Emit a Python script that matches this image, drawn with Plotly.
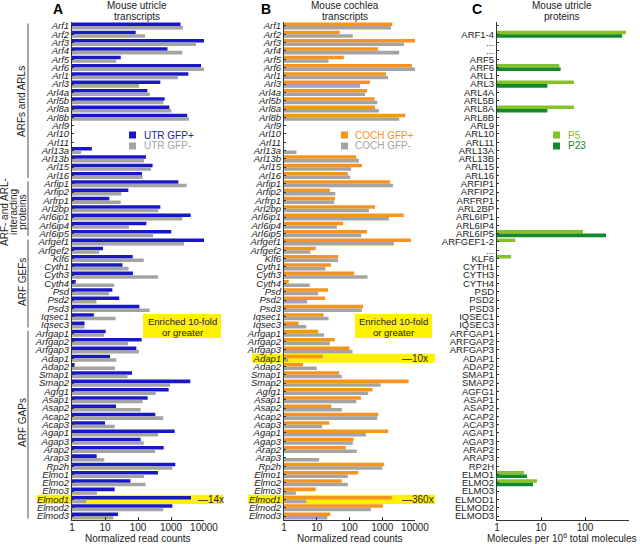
import plotly.graph_objects as go

W, H = 640, 544
FONT = "Liberation Sans, Arial, sans-serif"

genes = ["Arf1", "Arf2", "Arf3", "Arf4", "Arf5", "Arf6", "Arl1", "Arl3", "Arl4a", "Arl5b",
         "Arl8a", "Arl8b", "Arl9", "Arl10", "Arl11", "Arl13a", "Arl13b", "Arl15", "Arl16",
         "Arfip1", "Arfip2", "Arfrp1", "Arl2bp", "Arl6ip1", "Arl6ip4", "Arl6ip5",
         "Arfgef1", "Arfgef2", "Klf6", "Cyth1", "Cyth3", "Cyth4", "Psd", "Psd2", "Psd3",
         "Iqsec1", "Iqsec3", "Arfgap1", "Arfgap2", "Arfgap3", "Adap1", "Adap2", "Smap1",
         "Smap2", "Agfg1", "Asap1", "Asap2", "Acap2", "Acap3", "Agap1", "Agap3", "Arap2",
         "Arap3", "Rp2h", "Elmo1", "Elmo2", "Elmo3", "Elmod1", "Elmod2", "Elmod3"]

utr_pos = [1950, 85, 10500, 780, 30, 8100, 3350, 475, 192, 640,
           890, 3100, None, None, None, 4, 174, 277, 132,
           1670, 51, 13.5, 475, 3950, 179, 1020,
           10500, 8.7, 69, 34, 70, 1.3, 16.7, 27, 110,
           4.6, 2.4, 10.5, 129, 89, 14.2, 1.2, 66,
           3850, 850, 196, 21.6, 335, 10, 1290, 120, 600,
           5.6, 1350, 405, 59, 19.7, 4050, 1100, 24.7]
utr_neg = [2300, 163, 5700, 2200, 22, 10500, 1630, 107, 230, 585,
           1020, 3500, None, None, None, 1.9, 152, 247, 138,
           2970, 31, 30, 415, 2200, 53, 285,
           2460, 6.7, 149, 52, 405, 19, 13.2, 5.5, 225,
           21, 2.4, 9.3, 50, 107, 22, 20, 48,
           935, 345, 138, 120, 585, 19.7, 405, 149, 328,
           9.5, 1100, 152, 170, 5.7, 2.7, 585, 17.9]
coch_pos = [2030, 50, 10700, 740, 67, 8100, 1290, 420, 345, 585,
            600, 5050, None, None, None, None, 160, 240, 89,
            1750, 25, 36, 600, 4500, 64, 340,
            7550, 9.3, 45, 27, 139, 1.4, 22, 18, 262,
            16, 2.8, 11, 35, 100, 15.3, 3.8, 48,
            6400, 505, 223, 28, 755, 24, 1520, 135, 77,
            None, 1150, 185, 58, 9.3, 1950, 1050, 26]
coch_neg = [1850, 126, 4600, 3300, 23, 10700, 1490, 212, 300, 705,
            790, 3300, None, None, None, 2.4, 194, 112, 105,
            2130, 37, 34, 390, 1600, 41, 229,
            2270, 6.4, 45, 18.5, 355, 6.1, 11, 5.1, 240,
            23, 4.8, 16.7, 25, 124, 1.36, 10, 58,
            890, 372, 160, 58, 705, 14.6, 316, 126, 167,
            11.8, 1020, 89, 89, 2.3, 4.8, 450, 21]

protein_labels = ["", "ARF1-4", "...", "...", "ARF5", "ARF6", "ARL1", "ARL3", "ARL4A", "ARL5B",
                  "ARL8A", "ARL8B", "ARL9", "ARL10", "ARL11", "ARL13A", "ARL13B", "ARL15", "ARL16",
                  "ARFIP1", "ARFIP2", "ARFRP1", "ARL2BP", "ARL6IP1", "ARL6IP4", "ARL6IP5",
                  "ARFGEF1-2", "...", "KLF6", "CYTH1", "CYTH3", "CYTH4", "PSD", "PSD2", "PSD3",
                  "IQSEC1", "IQSEC3", "ARFGAP1", "ARFGAP2", "ARFGAP3", "ADAP1", "ADAP2", "SMAP1",
                  "SMAP2", "AGFG1", "ASAP1", "ASAP2", "ACAP2", "ACAP3", "AGAP1", "AGAP3", "ARAP2",
                  "ARAP3", "RP2H", "ELMO1", "ELMO2", "ELMO3", "ELMOD1", "ELMOD2", "ELMOD3"]
p5 = [None, 850, None, None, None, 26, None, 56, None, None,
      56, None, None, None, None, None, None, None, None,
      None, None, None, None, None, None, 90,
      2.6, None, 2.1, None, None, None, None, None, None,
      None, None, None, None, None, None, None, None,
      None, None, None, None, None, None, None, None, None,
      None, None, 4.1, 8.1, None, None, None, None]
p23 = [None, 700, None, None, None, 28, None, 14, None, None,
       14, None, None, None, None, None, None, None, None,
       None, None, None, None, None, None, 300,
       None, None, None, None, None, None, None, None, None,
       None, None, None, None, None, None, None, None,
       None, None, None, None, None, None, None, None, None,
       None, None, 4.8, 6.6, None, None, None, None]

read_ticks = [1, 10, 100, 1000, 10000]
mol_ticks = [1, 10, 100, 1000]

BLUE = "#1818c8"
GRAY = "#a4a4a4"
ORANGE = "#f7941d"
LGREEN = "#84c225"
DGREEN = "#12892c"
YELLOW = "#fff200"


def X(p):
    return p / W


def Y(p):
    return 1 - p / H


idx = list(range(len(genes)))
fig = go.Figure()

panels = [
    ("x", "y", utr_pos, utr_neg, BLUE, GRAY),
    ("x2", "y2", coch_pos, coch_neg, ORANGE, GRAY),
    ("x3", "y3", p5, p23, LGREEN, DGREEN),
]
for xa, ya, a, b, ca, cb in panels:
    fig.add_trace(go.Bar(x=a, y=idx, orientation="h", marker=dict(color=ca, line=dict(width=0)),
                         xaxis=xa, yaxis=ya, showlegend=False, hoverinfo="skip"))
    fig.add_trace(go.Bar(x=b, y=idx, orientation="h", marker=dict(color=cb, line=dict(width=0)),
                         xaxis=xa, yaxis=ya, showlegend=False, hoverinfo="skip"))

ydom = [Y(520.2), Y(21.8)]
xdoms = [[X(72), X(204)], [X(284), X(415)], [X(497), X(629)]]

def yax(labels, italic, anchor):
    return dict(domain=ydom, range=[len(labels) - 0.5, -0.5], tickvals=idx, ticktext=labels,
                tickfont=dict(size=9.5, family=FONT, color="#222", style="italic" if italic else "normal"),
                ticks="inside", ticklen=2, tickcolor="#333", showline=True, linecolor="#333",
                linewidth=1, showgrid=False, zeroline=False, anchor=anchor, fixedrange=True,
                automargin=False)

def xax(dom, rng, tv, anchor):
    return dict(domain=dom, type="log", range=rng, tickvals=tv, ticktext=[str(t) for t in tv],
                tickfont=dict(size=10, family=FONT, color="#222"), ticks="inside", ticklen=3,
                tickcolor="#333", showline=True, linecolor="#333", linewidth=1, showgrid=False,
                zeroline=False, anchor=anchor, automargin=False, fixedrange=True,
                ticklabelstandoff=-2)

fig.update_layout(
    width=W, height=H, margin=dict(l=0, r=0, t=0, b=0, autoexpand=False),
    paper_bgcolor="white", plot_bgcolor="rgba(0,0,0,0)",
    barmode="group", bargap=0.15, bargroupgap=0,
    font=dict(family=FONT, size=10, color="#222"),
    xaxis=xax(xdoms[0], [0, 4], read_ticks, "y"),
    xaxis2=xax(xdoms[1], [0, 4], read_ticks, "y2"),
    xaxis3=xax(xdoms[2], [0, 3], mol_ticks, "y3"),
    yaxis=yax(genes, True, "x"),
    yaxis2=yax(genes, True, "x2"),
    yaxis3=yax(protein_labels, False, "x3"),
)

shapes = []
ann = []

def text(x, y, t, size=10, color="#222", xanchor="center", angle=0, bold=False, yref="paper"):
    ann.append(dict(x=X(x), y=(Y(y) if yref == "paper" else y), xref="paper", yref=yref, text=t,
                    showarrow=False, xanchor=xanchor, yanchor="middle", textangle=angle,
                    font=dict(size=size, color=color, family=FONT, weight="bold" if bold else "normal")))

# panel letters & titles
text(58, 9, "A", size=14, bold=True, color="#000")
text(266, 9, "B", size=14, bold=True, color="#000")
text(477, 9, "C", size=14, bold=True, color="#000")
text(137, 5.5, "Mouse utricle")
text(137, 16, "transcripts")
text(345, 5.5, "Mouse cochlea")
text(345, 16, "transcripts")
text(562, 5.5, "Mouse utricle")
text(562, 16, "proteins")

# axis titles
text(138, 538, "Normalized read counts")
text(350, 538, "Normalized read counts")
text(562, 538, "Molecules per 10<sup>6</sup> total molecules")

# group brackets and labels (panel A)
groups = [("Arf1", "Arl16"), ("Arfip1", "Arl6ip5"), ("Arfgef1", "Iqsec3"), ("Arfgap1", "Elmod3")]
for g0, g1 in groups:
    shapes.append(dict(type="line", xref="paper", yref="y", x0=X(28), x1=X(28),
                       y0=genes.index(g0) - 0.3, y1=genes.index(g1) + 0.3,
                       line=dict(color="#8a8a8a", width=1.5)))
text(21, 102, "ARFs and ARLs", angle=-90)
text(5, 212, "ARF- and ARL-", angle=-90)
text(14, 212, "interacting", angle=-90)
text(23, 212, "proteins", angle=-90)
text(22, 282, "ARF GEFs", angle=-90)
text(22, 423, "ARF GAPs", angle=-90)

# legends
legends = [
    (129, 142, "UTR GFP+", BLUE, "UTR GFP-", GRAY, BLUE, GRAY),
    (341, 353, "COCH GFP+", ORANGE, "COCH GFP-", GRAY, ORANGE, GRAY),
    (553, 566, "P5", LGREEN, "P23", DGREEN, LGREEN, DGREEN),
]
for sx, tx, t1, c1, t2, c2, m1, m2 in legends:
    for (ty, t, c, m) in [(135, t1, c1, m1), (146, t2, c2, m2)]:
        shapes.append(dict(type="rect", xref="paper", yref="paper", x0=X(sx), x1=X(sx + 7),
                           y0=Y(ty + 3.5), y1=Y(ty - 3.5), fillcolor=m, line=dict(width=0)))
        text(tx, ty, t, color=c, xanchor="left")

# enriched boxes
for x0, x1 in [(143, 221), (355, 432)]:
    shapes.append(dict(type="rect", xref="paper", yref="paper", x0=X(x0), x1=X(x1),
                       y0=Y(338), y1=Y(314), fillcolor=YELLOW, line=dict(width=0), layer="below"))
    text((x0 + x1) / 2, 321, "Enriched 10-fold", size=9.5)
    text((x0 + x1) / 2, 332, "or greater", size=9.5)

# highlighted rows
hl = [("y", "Elmod1", 37, 223, 196, "\u201414x"),
      ("y2", "Adap1", 252, 435, 400, "\u201410x"),
      ("y2", "Elmod1", 248, 435, 400, "\u2014360x")]
for yr, g, x0, x1, tx, lab in hl:
    i = genes.index(g)
    shapes.append(dict(type="rect", xref="paper", yref=yr, x0=X(x0), x1=X(x1),
                       y0=i - 0.55, y1=i + 0.55, fillcolor=YELLOW, line=dict(width=0), layer="below"))
    text(tx, i, lab, xanchor="left", yref=yr)

fig.update_layout(shapes=shapes, annotations=ann)
fig.write_html("out.html", config={"displayModeBar": False, "staticPlot": True},
               post_script="document.body.style.margin='0';document.body.style.overflow='hidden';")
